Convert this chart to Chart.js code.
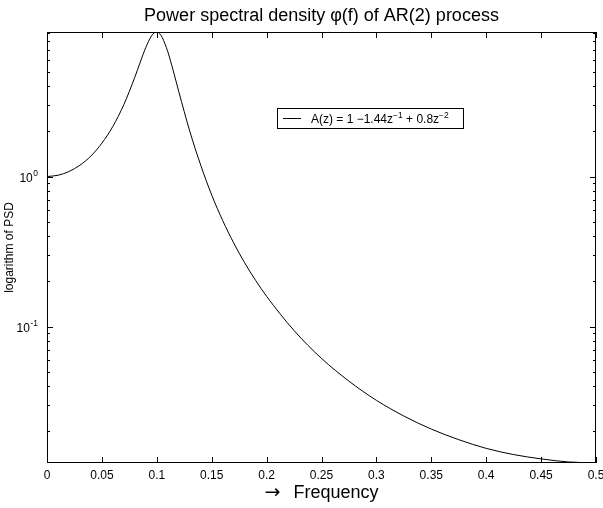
<!DOCTYPE html>
<html>
<head>
<meta charset="utf-8">
<title>Power spectral density of AR(2) process</title>
<script src="https://cdn.jsdelivr.net/npm/chart.js@4/dist/chart.umd.min.js"></script>
<style>
  html, body { margin: 0; padding: 0; background: #ffffff; }
  #wrap { width: 603px; height: 508px; }
</style>
</head>
<body>
<div id="wrap"><canvas id="psd" width="603" height="508"></canvas></div>
<script>
// Normalised frequency samples and the PSD of the AR(2) process at each one
const frequencies = [0, 0.01, 0.02, 0.03, 0.04, 0.05, 0.06, 0.07, 0.08, 0.085, 0.09, 0.095, 0.0975, 0.1,
  0.1025, 0.105, 0.11, 0.115, 0.12, 0.13, 0.14, 0.15, 0.16, 0.17, 0.18, 0.19, 0.2, 0.225, 0.25,
  0.275, 0.3, 0.325, 0.35, 0.375, 0.4, 0.425, 0.45, 0.475, 0.5];
const psdValues = [1.00, 1.02, 1.08, 1.19, 1.37, 1.67, 2.16, 3.02, 4.60, 5.81, 7.26, 8.63, 9.07, 9.20,
  8.99, 8.44, 6.80, 5.07, 3.69, 2.01, 1.19, 0.753, 0.509, 0.361, 0.266, 0.203, 0.159, 0.094, 0.0613,
  0.0432, 0.0322, 0.0253, 0.0207, 0.0176, 0.0154, 0.0140, 0.0131, 0.0125, 0.0123];

// Axis ticks
const xTickValues = [0, 0.05, 0.1, 0.15, 0.2, 0.25, 0.3, 0.35, 0.4, 0.45, 0.5];
const yMajorTicks = [0.1, 1];
const yMajorExponents = ['-1', '0'];
const yMinorTicks = [0.02, 0.03, 0.04, 0.05, 0.06, 0.07, 0.08, 0.09,
  0.2, 0.3, 0.4, 0.5, 0.6, 0.7, 0.8, 0.9, 2, 3, 4, 5, 6, 7, 8, 9];
const yLimits = [0.0123, 9.2];

// Text
const titleParts = ['Power spectral density ', '\u03C6', '(f) of AR(2) process'];
const xTitle = 'Frequency';
const yTitle = 'logarithm of PSD';
const legendParts = [['A(z) = 1 \u22121.44z', false], ['\u22121', true], [' + 0.8z', false], ['\u22122', true]];

const FONT = '"Liberation Sans", Arial, Helvetica, sans-serif';

const decorations = {
  id: 'decorations',
  afterDraw(chart) {
    const { ctx, chartArea: a, scales } = chart;
    const xs = scales.x, ys = scales.y;
    ctx.save();
    ctx.strokeStyle = '#000';
    ctx.fillStyle = '#000';
    ctx.lineWidth = 1;

    // frame
    ctx.strokeRect(Math.round(a.left) + 0.5, Math.round(a.top) + 0.5,
      Math.round(a.right - a.left) - 1, Math.round(a.bottom - a.top) - 1);

    // x ticks, pointing inward on bottom and top
    ctx.beginPath();
    xTickValues.forEach(v => {
      const px = Math.round(xs.getPixelForValue(v)) + 0.5;
      ctx.moveTo(px, a.bottom); ctx.lineTo(px, a.bottom - 6);
      ctx.moveTo(px, a.top); ctx.lineTo(px, a.top + 6);
    });
    // y ticks, left and right
    yMajorTicks.forEach(v => {
      const py = Math.round(ys.getPixelForValue(v)) + 0.5;
      ctx.moveTo(a.left, py); ctx.lineTo(a.left + 6, py);
      ctx.moveTo(a.right, py); ctx.lineTo(a.right - 6, py);
    });
    yMinorTicks.forEach(v => {
      if (v < yLimits[0] || v > yLimits[1]) return;
      const py = Math.round(ys.getPixelForValue(v)) + 0.5;
      ctx.moveTo(a.left, py); ctx.lineTo(a.left + 3, py);
      ctx.moveTo(a.right, py); ctx.lineTo(a.right - 3, py);
    });
    ctx.stroke();

    // y tick labels 10^k
    yMajorTicks.forEach((v, i) => {
      const py = ys.getPixelForValue(v);
      ctx.font = '8.5px ' + FONT;
      ctx.textAlign = 'right';
      ctx.textBaseline = 'alphabetic';
      const expW = ctx.measureText(yMajorExponents[i]).width;
      const right = a.left - 9;
      ctx.fillText(yMajorExponents[i], right, py - 1);
      ctx.font = '12px ' + FONT;
      ctx.fillText('10', right - expW - 0.5, py + 5);
    });

    // title
    ctx.textBaseline = 'alphabetic';
    ctx.textAlign = 'left';
    ctx.font = '18px ' + FONT;
    const tW = titleParts.reduce((s, t) => s + ctx.measureText(t).width, 0);
    let tx = (a.left + a.right) / 2 - tW / 2;
    titleParts.forEach(t => { ctx.fillText(t, tx, 21); tx += ctx.measureText(t).width; });

    // x title with arrow
    const arrow = '\u2192';
    const arrowFont = '19px "DejaVu Sans", sans-serif';
    const gap = 13;
    ctx.font = arrowFont;
    const aw = ctx.measureText(arrow).width;
    ctx.font = '18px ' + FONT;
    const xw = aw + gap + ctx.measureText(xTitle).width;
    let xx = (a.left + a.right) / 2 - xw / 2;
    ctx.font = arrowFont;
    ctx.fillText(arrow, xx, 498);
    xx += aw + gap;
    ctx.font = '18px ' + FONT;
    ctx.fillText(xTitle, xx, 498);

    // y title
    ctx.save();
    ctx.translate(13, (a.top + a.bottom) / 2);
    ctx.rotate(-Math.PI / 2);
    ctx.textAlign = 'center';
    ctx.font = '12px ' + FONT;
    ctx.fillText(yTitle, 0, 0);
    ctx.restore();

    // legend box
    const lx = 277, ly = 108, lw = 187, lh = 21;
    ctx.fillStyle = '#fff';
    ctx.fillRect(lx, ly, lw, lh);
    ctx.strokeStyle = '#000';
    ctx.strokeRect(lx + 0.5, ly + 0.5, lw - 1, lh - 1);
    ctx.beginPath();
    ctx.moveTo(lx + 6, ly + 10.5);
    ctx.lineTo(lx + 24, ly + 10.5);
    ctx.stroke();
    ctx.fillStyle = '#000';
    ctx.textAlign = 'left';
    let cx = lx + 34;
    legendParts.forEach(([t, sup]) => {
      ctx.font = (sup ? '8.5px ' : '12px ') + FONT;
      ctx.fillText(t, cx, sup ? ly + 10 : ly + 15);
      cx += ctx.measureText(t).width;
    });
    ctx.restore();
  }
};

new Chart(document.getElementById('psd'), {
  type: 'line',
  data: {
    labels: frequencies,
    datasets: [{
      label: 'A(z) = 1 \u22121.44z\u207B\u00B9 + 0.8z\u207B\u00B2',
      data: frequencies.map((f, i) => ({ x: f, y: psdValues[i] })),
      borderColor: '#000',
      borderWidth: 1,
      pointRadius: 0,
      fill: false,
      cubicInterpolationMode: 'monotone'
    }]
  },
  options: {
    responsive: false,
    animation: false,
    devicePixelRatio: 1,
    layout: { padding: { left: 0, right: 7, top: 32, bottom: 0 } },
    plugins: {
      legend: { display: false },
      title: { display: false },
      tooltip: { enabled: false }
    },
    scales: {
      x: {
        type: 'linear',
        min: 0,
        max: 0.5,
        afterBuildTicks: s => { s.ticks = xTickValues.map(v => ({ value: v })); },
        afterFit: s => { s.height = 45; s.paddingLeft = 0; s.paddingRight = 0; },
        grid: { display: false, drawTicks: false },
        border: { display: false },
        ticks: {
          color: '#000',
          font: { family: FONT, size: 12 },
          padding: 5,
          maxRotation: 0,
          autoSkip: false,
          callback: v => String(Number(v.toFixed(2)))
        }
      },
      y: {
        type: 'logarithmic',
        min: yLimits[0],
        max: yLimits[1],
        afterFit: s => { s.width = 47; },
        grid: { display: false, drawTicks: false },
        border: { display: false },
        ticks: { display: false }
      }
    }
  },
  plugins: [decorations]
});
</script>
</body>
</html>
